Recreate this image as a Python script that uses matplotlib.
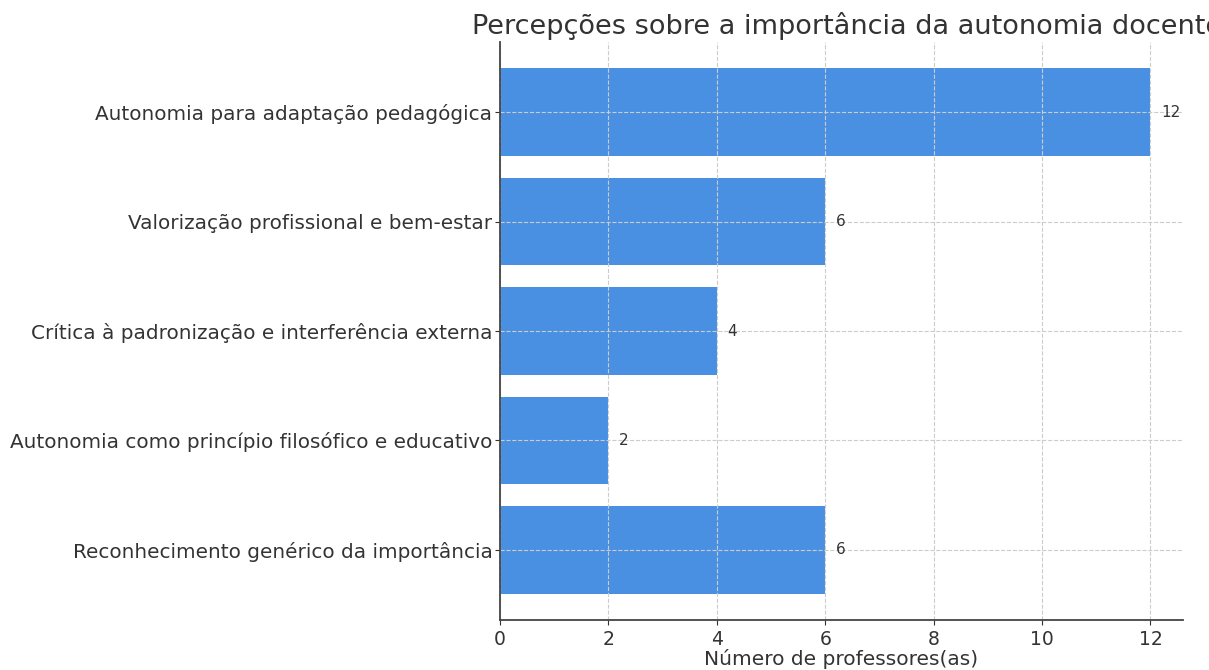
import matplotlib.pyplot as plt

categorias = [
    'Reconhecimento genérico da importância',
    'Autonomia como princípio filosófico e educativo',
    'Crítica à padronização e interferência externa',
    'Valorização profissional e bem-estar',
    'Autonomia para adaptação pedagógica',
]
professores = [6, 2, 4, 6, 12]

fig = plt.figure(figsize=(12.09, 6.70), dpi=100)
ax = fig.add_axes([0.4136, 0.0746, 0.5649, 0.8627])

barras = ax.barh(categorias, professores, height=0.8, color='#4a90e2')
ax.set_axisbelow(False)
ax.grid(True, linestyle='--', color='#cccccc', linewidth=0.8)

# rótulos com os valores ao lado de cada barra
for b, v in zip(barras, professores):
    ax.text(b.get_width() + 0.2, b.get_y() + b.get_height() / 2, str(v),
            va='center', ha='left', fontsize=11, color='#333333')

ax.set_title('Percepções sobre a importância da autonomia docente',
             fontsize=19.5, color='#333333', pad=5.5, x=0.508)
ax.set_xlabel('Número de professores(as)', fontsize=14.5, color='#333333',
              labelpad=0)
ax.tick_params(axis='y', labelsize=14.4, colors='#333333', pad=2)
ax.tick_params(axis='x', labelsize=13.5, colors='#333333')

for s in ['top', 'right']:
    ax.spines[s].set_visible(False)
for s in ['left', 'bottom']:
    ax.spines[s].set_color('#444444')
    ax.spines[s].set_linewidth(1.3)
    ax.spines[s].set_zorder(5)

fig.savefig('out.png', dpi=100)
